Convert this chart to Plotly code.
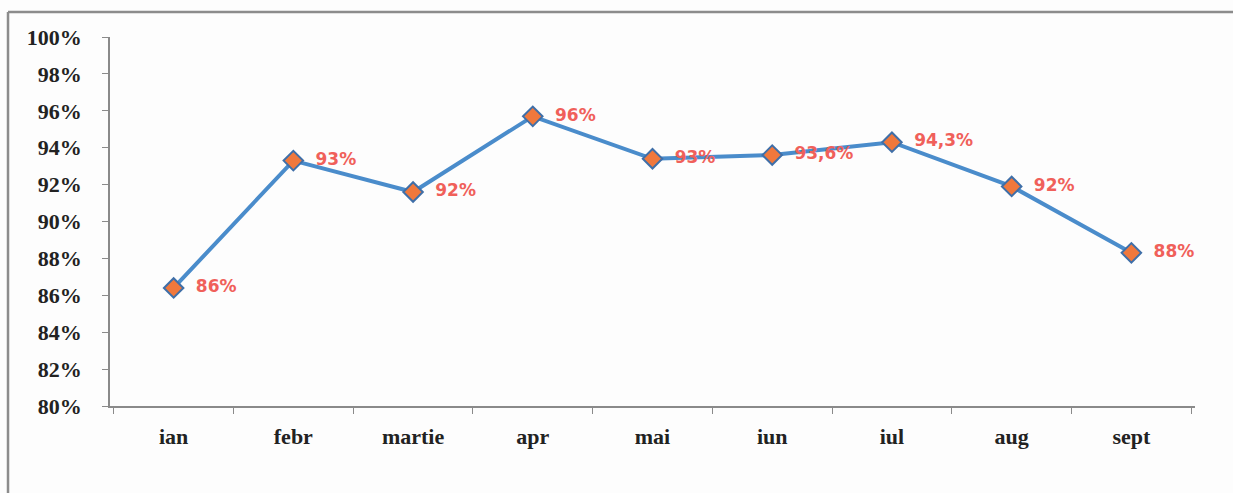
import plotly.graph_objects as go

# Monthly percentages
months = ["ian", "febr", "martie", "apr", "mai", "iun", "iul", "aug", "sept"]
values = [86.4, 93.3, 91.6, 95.7, 93.4, 93.6, 94.3, 91.9, 88.3]
decimals = [0, 0, 0, 0, 0, 1, 1, 0, 0]
y_ticks = [80, 82, 84, 86, 88, 90, 92, 94, 96, 98, 100]
y_tick_labels = [f"{t}%" for t in y_ticks]

labels = ["\u00a0\u00a0" + f"{v:.{d}f}%".replace(".", ",") for v, d in zip(values, decimals)]

fig = go.Figure()
fig.add_trace(go.Scatter(
    x=months,
    y=values,
    mode="lines+markers+text",
    line=dict(color="#4A8CCB", width=4),
    marker=dict(symbol="diamond", size=15, color="#F0783C",
                line=dict(color="#3F6FA8", width=2)),
    text=labels,
    textposition="middle right",
    textfont=dict(family="DejaVu Sans", size=17, color="#F0605A", weight="bold"),
    cliponaxis=False,
    hoverinfo="x+y",
))

axis_font = dict(family="Liberation Serif", size=22, color="#222222", weight="bold")
frame_line = dict(color="#8c8c8c", width=2.5)

fig.update_layout(
    width=1233,
    height=493,
    margin=dict(l=110, r=38, t=37, b=87),
    paper_bgcolor="#fdfdfd",
    plot_bgcolor="#fdfdfd",
    showlegend=False,
    xaxis=dict(
        type="category",
        showgrid=False,
        showline=True,
        linecolor="#8a8a8a",
        linewidth=1.5,
        ticks="outside",
        tickson="boundaries",
        ticklen=6,
        tickcolor="#8a8a8a",
        tickfont=axis_font,
        ticklabelstandoff=10,
        zeroline=False,
    ),
    yaxis=dict(
        range=[80, 100],
        tickvals=y_ticks,
        ticktext=y_tick_labels,
        showgrid=False,
        showline=True,
        linecolor="#8a8a8a",
        linewidth=1.5,
        ticks="outside",
        ticklen=6,
        tickcolor="#8a8a8a",
        tickfont=axis_font,
        ticklabelstandoff=16,
        zeroline=False,
    ),
    shapes=[
        # outer frame: top edge and left edge
        dict(type="line", xref="paper", yref="paper",
             x0=-0.094, x1=1.2, y0=1.068, y1=1.068, line=frame_line, layer="below"),
        dict(type="line", xref="paper", yref="paper",
             x0=-0.094, x1=-0.094, y0=-0.4, y1=1.068, line=frame_line, layer="below"),
    ],
)

fig.write_html("out.html")
